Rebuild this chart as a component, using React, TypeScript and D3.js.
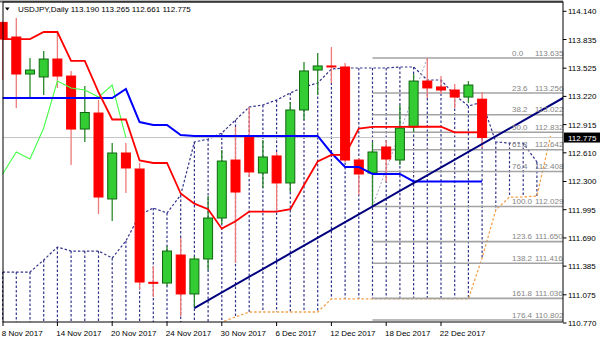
import React from "react";
import * as d3 from "d3";

// ---------- data ----------
const symbolTitle = "USDJPY,Daily";
const dates = [
  "2017-11-08", "2017-11-09", "2017-11-10", "2017-11-13", "2017-11-14", "2017-11-15", "2017-11-16", "2017-11-17",
  "2017-11-20", "2017-11-21", "2017-11-22", "2017-11-23", "2017-11-24", "2017-11-27", "2017-11-28", "2017-11-29",
  "2017-11-30", "2017-12-01", "2017-12-04", "2017-12-05", "2017-12-06", "2017-12-07", "2017-12-08", "2017-12-11",
  "2017-12-12", "2017-12-13", "2017-12-14", "2017-12-15", "2017-12-18", "2017-12-19", "2017-12-20", "2017-12-21",
  "2017-12-22", "2017-12-25", "2017-12-26", "2017-12-27",
];
const opens = [
  114.02, 113.862, 113.462, 113.43, 113.624, 113.44, 112.867, 113.04, 112.111, 112.608, 112.435, 111.21,
  111.202, 111.505, 111.084, 111.462, 111.905, 112.532, 112.781, 112.392, 112.576, 112.284, 113.073, 113.505,
  113.549, 113.538, 112.532, 112.392, 112.673, 112.532, 112.889, 113.386, 113.322, 113.289, 113.213, 113.19,
];
const highs = [
  114.03, 114.068, 113.635, 113.711, 113.916, 113.495, 113.332, 113.181, 112.716, 112.716, 112.5, 111.386,
  111.602, 111.689, 111.494, 112.143, 112.64, 112.889, 113.105, 112.749, 112.619, 113.159, 113.592, 113.689,
  113.754, 113.581, 112.554, 112.727, 112.749, 113.127, 113.462, 113.635, 113.44, 113.354, 113.386, 113.265,
];
const lows = [
  113.397, 113.094, 113.203, 113.235, 113.311, 112.478, 112.727, 111.948, 111.873, 112.175, 111.138, 111.051,
  111.17, 110.846, 110.932, 111.343, 111.84, 111.419, 112.348, 112.23, 111.992, 112.186, 112.965, 113.235,
  113.365, 112.511, 112.154, 112.029, 112.294, 112.478, 112.835, 113.203, 113.246, 113.094, 113.149, 112.661,
];
const closes = [
  113.84, 113.462, 113.505, 113.624, 113.44, 112.867, 113.046, 112.132, 112.608, 112.446, 111.213, 111.2,
  111.548, 111.084, 111.462, 111.905, 112.521, 112.186, 112.403, 112.565, 112.284, 113.073, 113.495, 113.549,
  113.538, 112.532, 112.381, 112.619, 112.543, 112.878, 113.386, 113.311, 113.289, 113.213, 113.343, 112.775,
];
const tenkan = [
  113.84, 113.84, 113.84, 113.916, 113.916, 113.603, 113.603, 113.267, 112.97, 112.97, 112.527, 112.5,
  112.5, 112.17, 112.06, 112.0, 111.79, 111.87, 111.975, 111.975, 111.975, 112.0, 112.262, 112.516,
  112.587, 112.587, 112.873, 112.89, 112.89, 112.89, 112.892, 112.892, 112.892, 112.832, 112.832, 112.832,
];
const kijun = [
  113.203, 113.203, 113.203, 113.203, 113.203, 113.203, 113.203, 113.203, 113.203, 113.3, 112.943, 112.911,
  112.911, 112.803, 112.792, 112.792, 112.792, 112.792, 112.792, 112.792, 112.792, 112.792, 112.792, 112.792,
  112.608, 112.457, 112.457, 112.381, 112.381, 112.381, 112.3, 112.3, 112.3, 112.3, 112.3, 112.3,
];
// Senkou span A (dotted navy), bars 0..39
const spanA = [
  111.321, 111.321, 111.321, 111.451, 111.591, 111.548, 111.548, 111.548, 111.473, 111.657, 111.938, 112.013,
  111.959, 112.154, 112.727, 112.759, 112.824, 112.965, 113.105, 113.127, 113.181, 113.257, 113.322, 113.365,
  113.516, 113.527, 113.527, 113.527, 113.527, 113.538, 113.538, 113.397, 113.397, 113.235, 113.116, 113.159,
  112.727, 112.716, 112.716, 112.511,
];
// Senkou span B (dotted sandy brown), bars 0..40
const spanB = [
  110.55, 110.55, 110.55, 110.55, 110.55, 110.55, 110.55, 110.55, 110.55, 110.55, 110.55, 110.55,
  110.55, 110.55, 110.55, 110.7, 110.781, 110.835, 110.889, 110.889, 110.889, 110.889, 110.889, 110.889,
  111.03, 111.03, 111.03, 111.03, 111.03, 111.03, 111.03, 111.03, 111.03, 111.03, 111.03, 111.473,
  111.992, 112.132, 112.132, 112.143, 112.792,
];
const chikouShift = 26;
const priceTicks = [114.14, 113.835, 113.525, 113.22, 112.915, 112.61, 112.3, 111.995, 111.69, 111.385, 111.075, 110.77];
const dateTickEvery = 4;
const fibLevels = [0, 23.6, 38.2, 50, 61.8, 76.4, 100, 123.6, 138.2, 161.8, 176.4];
const fibHighBar = 31;
const fibLowBar = 27;
const trendFromBar = 14;
const trendToBar = 27;

// ---------- layout ----------
const W = 600;
const H = 343;
const L = 3, R = 563, T = 2, B = 322;
const FONT = "'Liberation Sans', Arial, sans-serif";

const x = d3.scaleLinear().domain([0, 35]).range([2.6, 482.1]);
const y = d3.scaleLinear().domain([110.77, 114.14]).range([323, 11.3]);

const parse = d3.timeParse("%Y-%m-%d");
const fmtDate = d3.timeFormat("%-d %b %Y");

export default function App() {
  const line = d3
    .line<number>()
    .x((_, i) => x(i))
    .y((d) => y(d));

  const chikou = closes.slice(chikouShift);
  const last = closes.length - 1;

  const fibHigh = highs[fibHighBar];
  const fibLow = lows[fibLowBar];

  const tEnd = x.invert(R + 2);
  const slope = (lows[trendToBar] - lows[trendFromBar]) / (trendToBar - trendFromBar);
  const pEnd = lows[trendFromBar] + slope * (tEnd - trendFromBar);

  const dot = "2.5,2";
  const navy = "#34348c";
  const sandy = "#f5a24c";

  return (
    <svg
      width={W}
      height={H}
      style={{ position: "fixed", left: 0, top: 0, background: "#fff", fontFamily: FONT }}
    >
      <defs>
        <clipPath id="plot">
          <rect x={0} y={T} width={R} height={B - T} />
        </clipPath>
      </defs>
      <rect x={0} y={0} width={W} height={H} fill="#fff" />

      <g clipPath="url(#plot)">
        {/* cloud hatch */}
        {spanA.map((a, i) => (
          <line
            key={"h" + i}
            x1={x(i)}
            x2={x(i)}
            y1={y(a)}
            y2={y(spanB[i])}
            stroke={a >= spanB[i] ? navy : sandy}
            strokeWidth={1.2}
            strokeDasharray={dot}
          />
        ))}
        <path d={line(spanA) || ""} fill="none" stroke={navy} strokeWidth={1.2} strokeDasharray={dot} />
        <path d={line(spanB) || ""} fill="none" stroke={sandy} strokeWidth={1.3} strokeDasharray={dot} />

        {/* bid line */}
        <line x1={L} x2={R} y1={y(closes[last])} y2={y(closes[last])} stroke="#c4c4c4" strokeWidth={1} />

        {/* fibonacci levels */}
        {fibLevels.map((lv) => {
          const p = fibHigh - ((fibHigh - fibLow) * lv) / 100;
          return (
            <line key={"f" + lv} x1={x(fibLowBar)} x2={R} y1={y(p)} y2={y(p)} stroke="#a3a3a3" strokeWidth={1.6} />
          );
        })}
        <line
          x1={x(fibLowBar)}
          y1={y(fibLow)}
          x2={x(fibHighBar)}
          y2={y(fibHigh)}
          stroke="#a0a0c4"
          strokeWidth={1}
          strokeDasharray="2,2"
        />
      </g>

      {/* candles */}
      {opens.map((o, i) => {
        const c = closes[i];
        const bull = c >= o;
        const top = y(Math.max(o, c));
        const h = Math.max(1, Math.abs(y(o) - y(c)));
        return (
          <g key={"c" + i}>
            <line
              x1={x(i)}
              x2={x(i)}
              y1={y(highs[i])}
              y2={y(lows[i])}
              stroke={bull ? "#2a8a2a" : "#ee7a7a"}
              strokeWidth={1.3}
            />
            <rect
              x={x(i) - 4.5}
              y={top}
              width={9}
              height={h}
              fill={bull ? "#33cc33" : "#ff0000"}
              stroke={bull ? "#116611" : "#ff0000"}
              strokeWidth={1}
            />
          </g>
        );
      })}

      <g clipPath="url(#plot)">
        {/* Ichimoku lines */}
        <path d={line(chikou) || ""} fill="none" stroke="#44ff44" strokeWidth={1.1} />
        <path d={line(kijun) || ""} fill="none" stroke="#0000ff" strokeWidth={2} />
        <path d={line(tenkan) || ""} fill="none" stroke="#ff0000" strokeWidth={1.8} />

        {/* trend line */}
        <line
          x1={x(trendFromBar)}
          y1={y(lows[trendFromBar])}
          x2={x(tEnd)}
          y2={y(pEnd)}
          stroke="#00007f"
          strokeWidth={2}
        />
      </g>

      {/* fib labels */}
      {fibLevels.map((lv) => {
        const p = fibHigh - ((fibHigh - fibLow) * lv) / 100;
        return (
          <g key={"fl" + lv} fill="#858585" fontSize={8}>
            <text x={512} y={y(p) - 2.5}>{lv.toFixed(1)}</text>
            <text x={535} y={y(p) - 2.5}>{p.toFixed(3)}</text>
          </g>
        );
      })}

      {/* frame */}
      <line x1={0} x2={R} y1={1.5} y2={1.5} stroke="#6e6e6e" strokeWidth={2} />
      <rect x={L} y={T} width={R - L} height={B - T} fill="none" stroke="#000" strokeWidth={1} />

      {/* header */}
      <polygon points="5,7.5 9.6,7.5 7.3,10.5" fill="#000" />
      <text x={18} y={11.5} fontSize={8} fill="#000">
        {symbolTitle + " " + [opens[last], highs[last], lows[last], closes[last]].map((v) => v.toFixed(3)).join(" ")}
      </text>

      {/* price axis */}
      {priceTicks.map((v) => (
        <g key={"p" + v}>
          <line x1={R} x2={R + 3.5} y1={y(v)} y2={y(v)} stroke="#000" />
          <text x={568} y={y(v) + 3} fontSize={8} fill="#000">
            {v.toFixed(3)}
          </text>
        </g>
      ))}
      <rect x={564} y={y(closes[last]) - 5} width={36} height={10} fill="#000" />
      <text x={568} y={y(closes[last]) + 3} fontSize={8} fill="#fff">
        {closes[last].toFixed(3)}
      </text>

      {/* date axis */}
      {dates.map((d, i) =>
        i % dateTickEvery === 0 ? (
          <g key={"d" + i}>
            <line x1={Math.max(L, x(i))} x2={Math.max(L, x(i))} y1={B} y2={B + 4} stroke="#000" />
            <text x={Math.max(L, x(i)) - 1.2} y={335.8} fontSize={8} fill="#000">
              {fmtDate(parse(d) as Date)}
            </text>
          </g>
        ) : null
      )}
    </svg>
  );
}
